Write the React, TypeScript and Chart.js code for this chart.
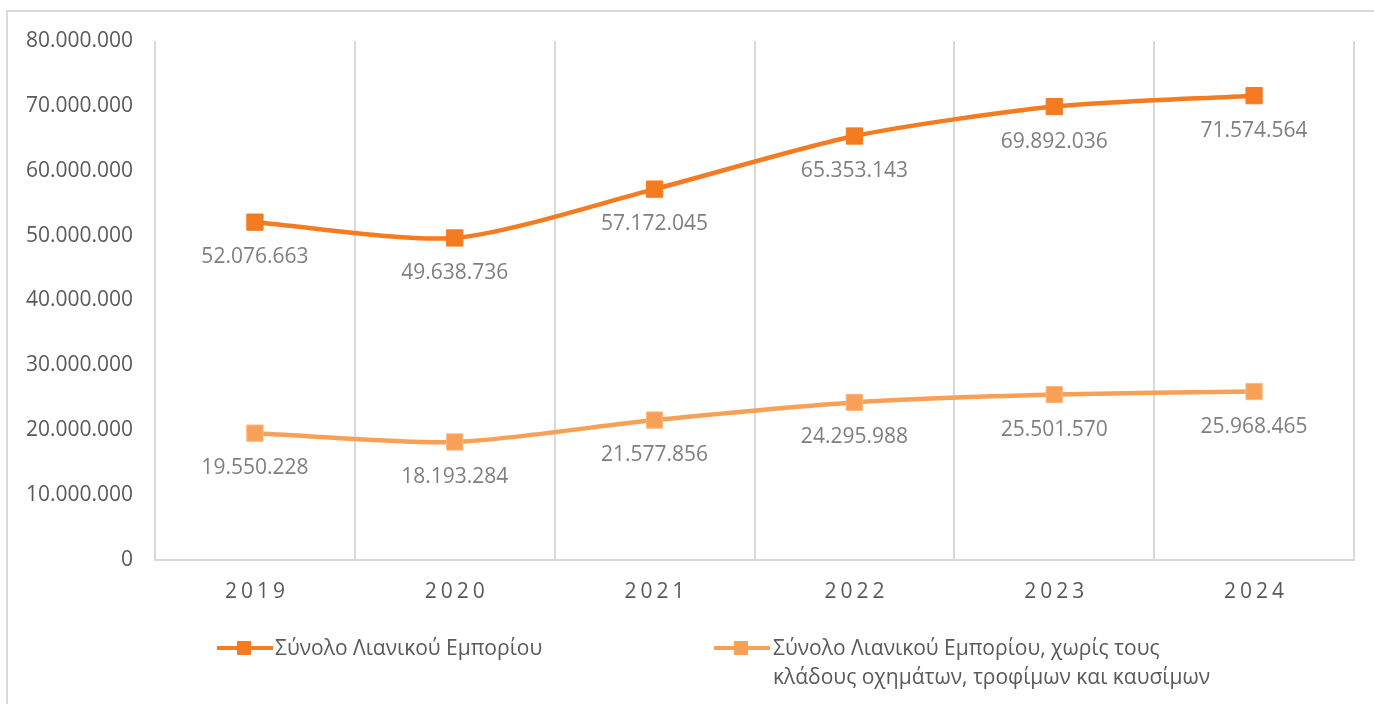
import React, { useEffect, useRef } from "react";
import { Chart, registerables } from "chart.js";

Chart.register(...registerables);

const years = ["2019", "2020", "2021", "2022", "2023", "2024"];
const totalRetail = [52076663, 49638736, 57172045, 65353143, 69892036, 71574564];
const retailExcl = [19550228, 18193284, 21577856, 24295988, 25501570, 25968465];
const seriesNames = [
  "Σύνολο Λιανικού Εμπορίου",
  "Σύνολο Λιανικού Εμπορίου, χωρίς τους",
  "κλάδους οχημάτων, τροφίμων και καυσίμων",
];

const DARK = "#F47B20";
const LIGHT = "#F9A057";
const FONT = "'Open Sans', 'Liberation Sans', sans-serif";

const fmt = (v: number) =>
  Math.round(v)
    .toString()
    .replace(/\B(?=(\d{3})+(?!\d))/g, ".");

const labelPlugin = {
  id: "customLabels",
  afterDatasetsDraw(chart: any) {
    const ctx = chart.ctx;
    ctx.save();
    ctx.font = `21px ${FONT}`;
    ctx.fillStyle = "#7F7F7F";
    ctx.textAlign = "center";
    ctx.textBaseline = "middle";
    chart.data.datasets.forEach((ds: any, i: number) => {
      const meta = chart.getDatasetMeta(i);
      meta.data.forEach((pt: any, j: number) => {
        ctx.fillText(fmt(ds.data[j]), pt.x, pt.y + 35);
      });
    });
    ctx.restore();
  },
  afterDraw(chart: any) {
    const ctx = chart.ctx;
    const xs = chart.scales.x;
    ctx.save();
    ctx.font = `21px ${FONT}`;
    ctx.fillStyle = "#595959";
    ctx.textAlign = "left";
    ctx.textBaseline = "middle";
    (ctx as any).letterSpacing = "4px";
    chart.data.labels.forEach((lab: string, i: number) => {
      const w = ctx.measureText(lab).width - 4;
      const x = xs.getPixelForValue(i);
      ctx.fillText(lab, x - w / 2, xs.top + 32);
    });
    ctx.restore();
  },
};

export default function App() {
  const ref = useRef<HTMLCanvasElement>(null);
  useEffect(() => {
    if (!ref.current) return;
    const chart = new Chart(ref.current, {
      type: "line",
      data: {
        labels: years,
        datasets: [
          {
            label: seriesNames[0],
            data: totalRetail,
            borderColor: DARK,
            backgroundColor: DARK,
            borderWidth: 4.5,
            pointStyle: "rect",
            pointRadius: 11.5,
            pointBorderWidth: 1,
            pointBorderColor: DARK,
            tension: 0.25,
          },
          {
            label: seriesNames[1] + " " + seriesNames[2],
            data: retailExcl,
            borderColor: LIGHT,
            backgroundColor: LIGHT,
            borderWidth: 4.5,
            pointStyle: "rect",
            pointRadius: 11.5,
            pointBorderWidth: 1,
            pointBorderColor: "#FBB880",
            tension: 0.25,
          },
        ],
      },
      options: {
        animation: false,
        responsive: false,
        devicePixelRatio: 1,
        layout: { padding: { top: 41, right: 20, left: 0, bottom: 0 } },
        plugins: { legend: { display: false }, tooltip: { enabled: false } },
        scales: {
          x: {
            offset: true,
            grid: { offset: true, color: "#D9D9D9", lineWidth: 2, drawTicks: false },
            border: { color: "#D9D9D9", width: 2 },
            ticks: { display: false },
            afterFit: (s: any) => {
              s.height = 144;
            },
          },
          y: {
            min: 0,
            max: 80000000,
            ticks: {
              stepSize: 10000000,
              callback: (v: any) => fmt(Number(v)),
              font: { family: FONT, size: 21 },
              color: "#595959",
              padding: 22,
            },
            grid: { display: false, drawTicks: false },
            border: { display: false },
            afterFit: (s: any) => {
              s.width = 155;
            },
          },
        },
      },
      plugins: [labelPlugin],
    });
    return () => chart.destroy();
  }, []);

  const legendText: React.CSSProperties = {
    position: "absolute",
    fontFamily: FONT,
    fontSize: 21,
    color: "#595959",
    lineHeight: "29px",
    whiteSpace: "nowrap",
  };

  const marker = (x: number, color: string) => (
    <>
      <div style={{ position: "absolute", left: x - 27, top: 646, width: 56, height: 4, background: color }} />
      <div style={{ position: "absolute", left: x - 7, top: 641, width: 14, height: 14, background: color }} />
    </>
  );

  return (
    <div style={{ position: "fixed", left: 0, top: 0, width: 1374, height: 704, overflow: "hidden", background: "#fff" }}>
      <div
        style={{
          position: "absolute",
          left: 6,
          top: 10,
          width: 1500,
          height: 900,
          border: "2px solid #D9D9D9",
        }}
      />
      <canvas ref={ref} width={1374} height={704} style={{ position: "absolute", left: 0, top: 0 }} />
      {marker(244, DARK)}
      <div style={{ ...legendText, left: 275, top: 633 }}>{seriesNames[0]}</div>
      {marker(741, LIGHT)}
      <div style={{ ...legendText, left: 773, top: 633 }}>
        {seriesNames[1]}
        <br />
        {seriesNames[2]}
      </div>
    </div>
  );
}
